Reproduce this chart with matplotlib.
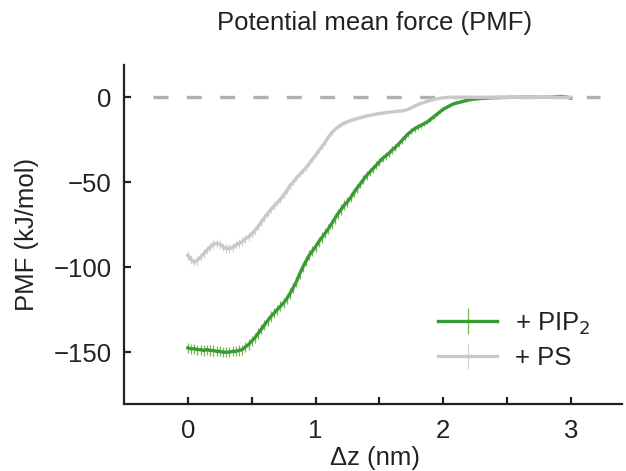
import numpy as np
import matplotlib
matplotlib.use("Agg")
import matplotlib.pyplot as plt

plt.rcParams['font.family'] = ['Liberation Sans', 'DejaVu Sans']

# ---- data ----
dz_pip2 = [round(0.025 * i, 3) for i in range(121)]
pmf_pip2 = [
    -147.5, -148.0, -148.0, -148.5, -148.5, -149.0, -148.5, -149.0, -149.0, -149.5,
    -149.5, -150.0, -150.0, -150.0, -149.5, -149.5, -149.0, -148.5, -147.0, -145.5,
    -143.5, -141.5, -139.0, -136.5, -134.0, -131.5, -129.0, -127.0, -125.0, -123.0,
    -121.0, -118.5, -115.5, -112.0, -108.5, -104.0, -100.0, -96.5, -93.0, -90.5,
    -88.0, -85.0, -82.5, -80.0, -77.5, -74.5, -71.5, -68.5, -66.0, -63.5,
    -61.5, -59.0, -56.0, -53.5, -51.0, -48.5, -46.0, -44.0, -42.0, -40.0,
    -38.0, -36.0, -34.5, -33.0, -31.0, -29.5, -27.5, -25.5, -23.5, -21.5,
    -20.0, -18.5, -17.5, -16.5, -15.5, -14.5, -13.0, -11.5, -10.0, -8.5,
    -7.0, -6.0, -5.0, -4.0, -3.5, -3.0, -2.5, -2.0, -1.5, -1.2,
    -1.0, -0.8, -0.6, -0.5, -0.4, -0.3, -0.2, -0.2, -0.1, -0.1,
    -0.1, 0.0, 0.0, 0.0, 0.0, 0.0, 0.0, 0.0, 0.0, 0.0,
    0.0, 0.0, 0.0, 0.0, 0.1, 0.2, 0.4, 0.5, 0.3, 0.0,
    -0.5,
]
err_pip2 = [
    3.0, 3.0, 3.0, 3.0, 3.0, 3.0, 3.0, 3.0, 3.0, 3.0,
    3.0, 3.0, 3.0, 3.0, 3.0, 3.0, 3.0, 3.0, 3.0, 3.0,
    3.0, 3.0, 3.0, 3.0, 3.0, 3.0, 3.0, 3.0, 3.0, 3.0,
    3.0, 3.0, 3.0, 3.0, 3.0, 3.0, 3.0, 3.0, 3.0, 3.0,
    3.0, 3.0, 3.0, 3.0, 3.0, 3.0, 3.0, 3.0, 3.0, 3.0,
    2.8, 2.8, 2.8, 2.6, 2.6, 2.6, 2.5, 2.5, 2.4, 2.4,
    2.3, 2.3, 2.2, 2.2, 2.1, 2.1, 2.0, 2.0, 1.9, 1.9,
    1.8, 1.8, 1.7, 1.6, 1.5, 1.4, 1.3, 1.2, 1.1, 1.0,
    0.9, 0.8, 0.8, 0.7, 0.7, 0.6, 0.6, 0.5, 0.5, 0.5,
    0.4, 0.4, 0.4, 0.4, 0.3, 0.3, 0.3, 0.3, 0.3, 0.3,
    0.3, 0.3, 0.3, 0.3, 0.3, 0.3, 0.3, 0.3, 0.3, 0.3,
    0.3, 0.3, 0.3, 0.3, 0.3, 0.3, 0.3, 0.3, 0.3, 0.3,
    0.3,
]

dz_ps = [round(0.025 * i, 3) for i in range(121)]
pmf_ps = [
    -93.0, -95.5, -97.0, -96.0, -94.0, -92.0, -90.0, -88.0, -86.5, -86.0,
    -86.5, -88.0, -89.0, -89.0, -88.5, -87.0, -86.0, -85.0, -83.5, -82.0,
    -80.5, -78.5, -76.0, -73.5, -71.0, -68.5, -66.0, -64.0, -62.0, -60.0,
    -57.5, -55.0, -52.0, -50.0, -47.5, -45.5, -43.5, -41.5, -39.0, -36.5,
    -34.0, -31.5, -29.0, -26.5, -23.5, -21.0, -19.0, -17.5, -16.2, -15.2,
    -14.4, -13.7, -13.1, -12.5, -12.0, -11.5, -11.0, -10.6, -10.2, -9.9,
    -9.6, -9.3, -9.0, -8.8, -8.6, -8.4, -8.2, -8.0, -7.7, -7.1,
    -6.2, -5.2, -4.3, -3.6, -3.0, -2.4, -1.8, -1.3, -0.9, -0.6,
    -0.3, -0.1, 0.0, 0.0, 0.0, 0.0, 0.0, 0.0, 0.0, 0.0,
    0.0, 0.0, 0.0, 0.0, 0.0, 0.0, 0.0, 0.0, 0.0, 0.0,
    0.0, 0.0, 0.0, 0.0, 0.0, 0.0, 0.0, 0.0, 0.0, 0.0,
    0.0, 0.0, 0.0, 0.0, 0.0, 0.0, 0.0, 0.0, 0.0, 0.0,
    0.0,
]
err_ps = [
    2.5, 2.5, 2.5, 2.5, 2.5, 2.5, 2.5, 2.5, 2.5, 2.5,
    2.5, 2.5, 2.5, 2.5, 2.5, 2.5, 2.5, 2.5, 2.5, 2.5,
    2.4, 2.4, 2.3, 2.3, 2.2, 2.2, 2.1, 2.1, 2.0, 2.0,
    1.9, 1.9, 1.8, 1.8, 1.7, 1.7, 1.6, 1.6, 1.5, 1.5,
    1.4, 1.4, 1.3, 1.3, 1.2, 1.2, 1.1, 1.1, 1.0, 1.0,
    0.9, 0.9, 0.8, 0.8, 0.8, 0.7, 0.7, 0.7, 0.6, 0.6,
    0.6, 0.5, 0.5, 0.5, 0.5, 0.4, 0.4, 0.4, 0.4, 0.4,
    0.3, 0.3, 0.3, 0.3, 0.3, 0.3, 0.3, 0.3, 0.3, 0.3,
    0.3, 0.3, 0.3, 0.3, 0.3, 0.3, 0.3, 0.3, 0.3, 0.3,
    0.3, 0.3, 0.3, 0.3, 0.3, 0.3, 0.3, 0.3, 0.3, 0.3,
    0.3, 0.3, 0.3, 0.3, 0.3, 0.3, 0.3, 0.3, 0.3, 0.3,
    0.3, 0.3, 0.3, 0.3, 0.3, 0.3, 0.3, 0.3, 0.3, 0.3,
    0.3,
]

x_ticks = [0, 1, 2, 3]
y_ticks = [0, -50, -100, -150]
labels = ['+ PIP$_2$', '+ PS']

# ---- figure ----
W, H = 626, 471
fig = plt.figure(figsize=(W / 100, H / 100), dpi=100)
ax = fig.add_axes([124 / W, 67 / H, (622 - 124) / W, (406 - 67) / H])

green = '#3a9a35'
green_err = '#74b84e'
gray = '#c9c9c9'
gray_err = '#d2d2d2'

ax.hlines(0, -0.27, 3.23, colors='#b0b0b0', linestyles=(0, (4.5, 5.5)), linewidth=2.4, zorder=1)

eb_pip2 = ax.errorbar(dz_pip2, pmf_pip2, yerr=err_pip2, color=green, ecolor=green_err,
                      linewidth=2.4, elinewidth=0.9, capsize=0, zorder=2)
eb_ps = ax.errorbar(dz_ps, pmf_ps, yerr=err_ps, color=gray, ecolor=gray_err,
                    linewidth=2.4, elinewidth=0.9, capsize=0, zorder=3)

ax.set_xlim(-0.5, 3.4)
ax.set_ylim(-180.5, 19)
ax.set_xticks(x_ticks)
ax.set_xticks([0.5, 1.5, 2.5], minor=True)
ax.set_yticks(y_ticks)
ax.set_yticklabels(['0', '\u221250', '\u2212100', '\u2212150'])

for s in ['top', 'right']:
    ax.spines[s].set_visible(False)
for s in ['left', 'bottom']:
    ax.spines[s].set_linewidth(1.6)
    ax.spines[s].set_color('#222222')

ax.tick_params(axis='both', which='both', direction='in', length=5, width=1.6,
               color='#222222', labelsize=18.5, labelcolor='#222222')
ax.tick_params(axis='x', which='both', pad=11)
ax.tick_params(axis='y', which='both', pad=9)

fig.text(375 / W, 1 - 23 / H, 'Potential mean force (PMF)', ha='center', va='center',
         fontsize=18.5, color='#222222')
fig.text(375 / W, 1 - 458 / H, '\u0394z (nm)', ha='center', va='center',
         fontsize=18.5, color='#222222')
fig.text(27 / W, 1 - 234 / H, 'PMF (kJ/mol)', ha='center', va='center', rotation=90,
         fontsize=18.5, color='#222222')

leg = ax.legend([eb_pip2, eb_ps], labels, loc='center left',
                bbox_to_anchor=(438 / W, 1 - 340 / H), bbox_transform=fig.transFigure,
                frameon=False, fontsize=18.5, handlelength=2.3, handletextpad=0.7,
                labelspacing=0.35, borderpad=0, borderaxespad=0)
for t in leg.get_texts():
    t.set_color('#222222')

fig.savefig('out.png', dpi=100)
